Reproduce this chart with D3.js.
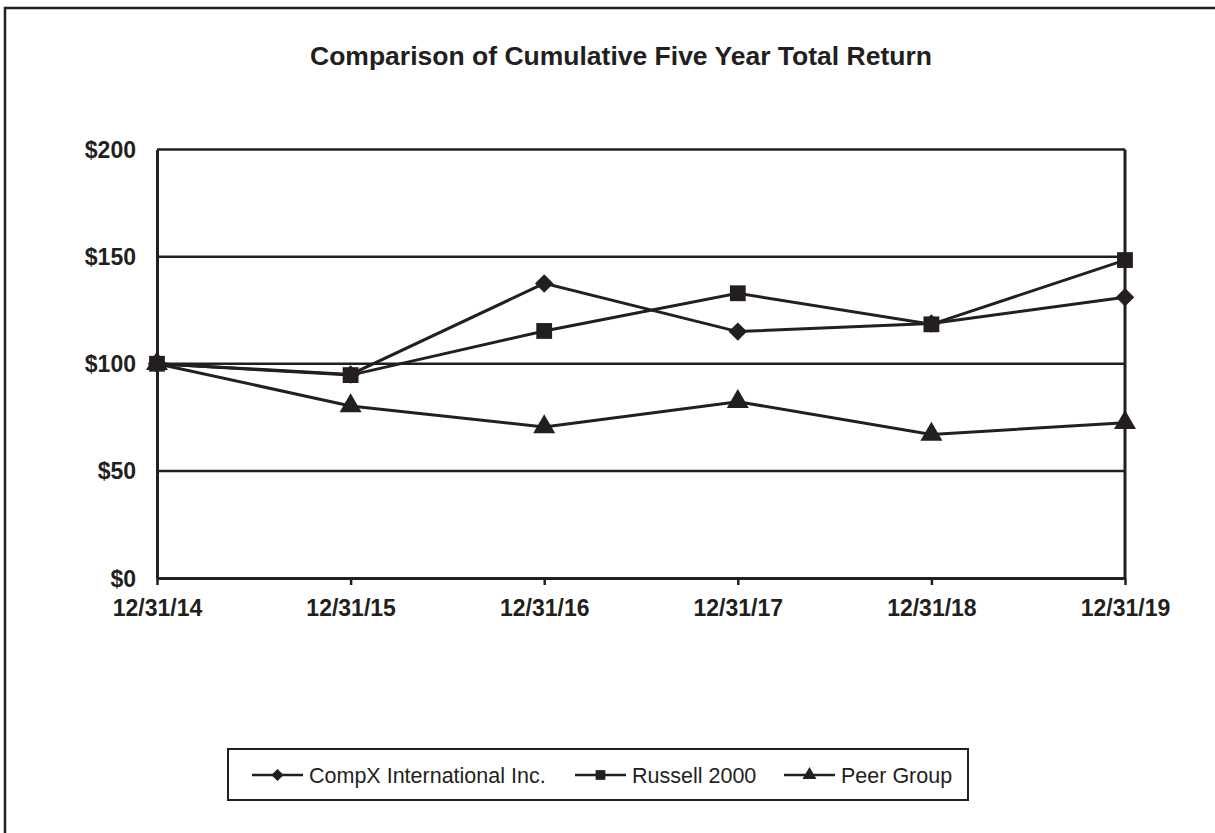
<!DOCTYPE html>
<html>
<head>
<meta charset="utf-8">
<script src="https://cdn.jsdelivr.net/npm/d3@7"></script>
<style>
  body { margin: 0; background: #fff; }
  svg text { font-family: "Liberation Sans", Arial, sans-serif; fill: #231f20; }
</style>
</head>
<body>
<svg id="chart"></svg>
<script>
// data
const dates = ["12/31/14", "12/31/15", "12/31/16", "12/31/17", "12/31/18", "12/31/19"];
const compx = [100, 95, 137.5, 115, 118.8, 131];
const russell = [100, 94.7, 115.3, 132.9, 118.4, 148.4];
const peer = [100, 80.3, 70.5, 82.3, 67, 72.5];
const seriesNames = ["CompX International Inc.", "Russell 2000", "Peer Group"];
const yTicks = [0, 50, 100, 150, 200];

const ink = "#231f20";
let width = 1215;
let height = 833;

let svg = d3.select("#chart")
    .attr("width", width)
    .attr("height", height);

// outer frame (runs off the right and bottom of the page)
svg.append("rect")
    .attr("x", 5).attr("y", 8)
    .attr("width", 1240).attr("height", 900)
    .attr("fill", "none").attr("stroke", ink).attr("stroke-width", 2.5);

let plot = { left: 157, right: 1125, top: 149.5, bottom: 578 };

let x = d3.scalePoint()
    .domain(dates)
    .range([plot.left, plot.right]);

let y = d3.scaleLinear()
    .domain([0, 200])
    .range([plot.bottom, plot.top]);

// title
svg.append("text")
    .attr("x", 621).attr("y", 65)
    .attr("text-anchor", "middle")
    .style("font-size", "26.5px").style("font-weight", "bold")
    .text("Comparison of Cumulative Five Year Total Return");

// horizontal grid lines
svg.append("g")
    .selectAll("line")
    .data(yTicks.filter(d => d > 0))
    .enter().append("line")
    .attr("x1", plot.left).attr("x2", plot.right)
    .attr("y1", d => y(d)).attr("y2", d => y(d))
    .attr("stroke", ink).attr("stroke-width", 2.5);

// right border of plot
svg.append("line")
    .attr("x1", plot.right).attr("x2", plot.right)
    .attr("y1", plot.top).attr("y2", plot.bottom)
    .attr("stroke", ink).attr("stroke-width", 3);

// y axis
let yAxis = svg.append("g")
    .attr("transform", `translate(${plot.left},0)`)
    .call(d3.axisLeft(y).tickValues(yTicks).tickSize(0).tickPadding(21).tickFormat(d => "$" + d));
yAxis.select(".domain").attr("stroke", ink).attr("stroke-width", 3);
yAxis.selectAll("text")
    .style("font-size", "23px").style("font-weight", "bold")
    .attr("dy", "0.35em");

// x axis
let xAxis = svg.append("g")
    .attr("transform", `translate(0,${plot.bottom})`)
    .call(d3.axisBottom(x).tickSize(7).tickPadding(15).tickSizeOuter(0));
xAxis.select(".domain").attr("stroke", ink).attr("stroke-width", 3);
xAxis.selectAll(".tick line").attr("stroke", ink).attr("stroke-width", 2.5);
xAxis.selectAll("text")
    .style("font-size", "23px").style("font-weight", "bold");

// marker shapes
const diamond = {
    draw(ctx, size) {
        const r = Math.sqrt(size / 2);
        ctx.moveTo(0, -r); ctx.lineTo(r, 0); ctx.lineTo(0, r); ctx.lineTo(-r, 0); ctx.closePath();
    }
};
const shapes = [diamond, d3.symbolSquare, d3.symbolTriangle];
const sizes = [170, 250, 210];

const series = [compx, russell, peer];

let line = d3.line()
    .x((d, i) => x(dates[i]))
    .y(d => y(d));

// draw lines first, markers on top
series.forEach(vals => {
    svg.append("path")
        .datum(vals)
        .attr("fill", "none")
        .attr("stroke", ink)
        .attr("stroke-width", 3)
        .attr("d", line);
});

series.forEach((vals, s) => {
    svg.append("g")
        .selectAll("path")
        .data(vals)
        .enter().append("path")
        .attr("transform", (d, i) => `translate(${x(dates[i])},${y(d)})`)
        .attr("d", d3.symbol().type(shapes[s]).size(sizes[s]))
        .attr("fill", ink);
});

// legend
let legend = svg.append("g");
legend.append("rect")
    .attr("x", 228).attr("y", 749)
    .attr("width", 740).attr("height", 51)
    .attr("fill", "none").attr("stroke", ink).attr("stroke-width", 2);

const legendX = [252, 575, 784];
const legendSizes = [75, 95, 85];
seriesNames.forEach((name, s) => {
    let g = legend.append("g").attr("transform", `translate(${legendX[s]},775)`);
    g.append("line")
        .attr("x1", 0).attr("x2", 51)
        .attr("stroke", ink).attr("stroke-width", 2.5);
    g.append("path")
        .attr("transform", "translate(25.5,0)")
        .attr("d", d3.symbol().type(shapes[s]).size(legendSizes[s]))
        .attr("fill", ink);
    g.append("text")
        .attr("x", 57).attr("y", 0).attr("dy", "0.35em")
        .style("font-size", "21.5px")
        .text(name);
});
</script>
</body>
</html>
